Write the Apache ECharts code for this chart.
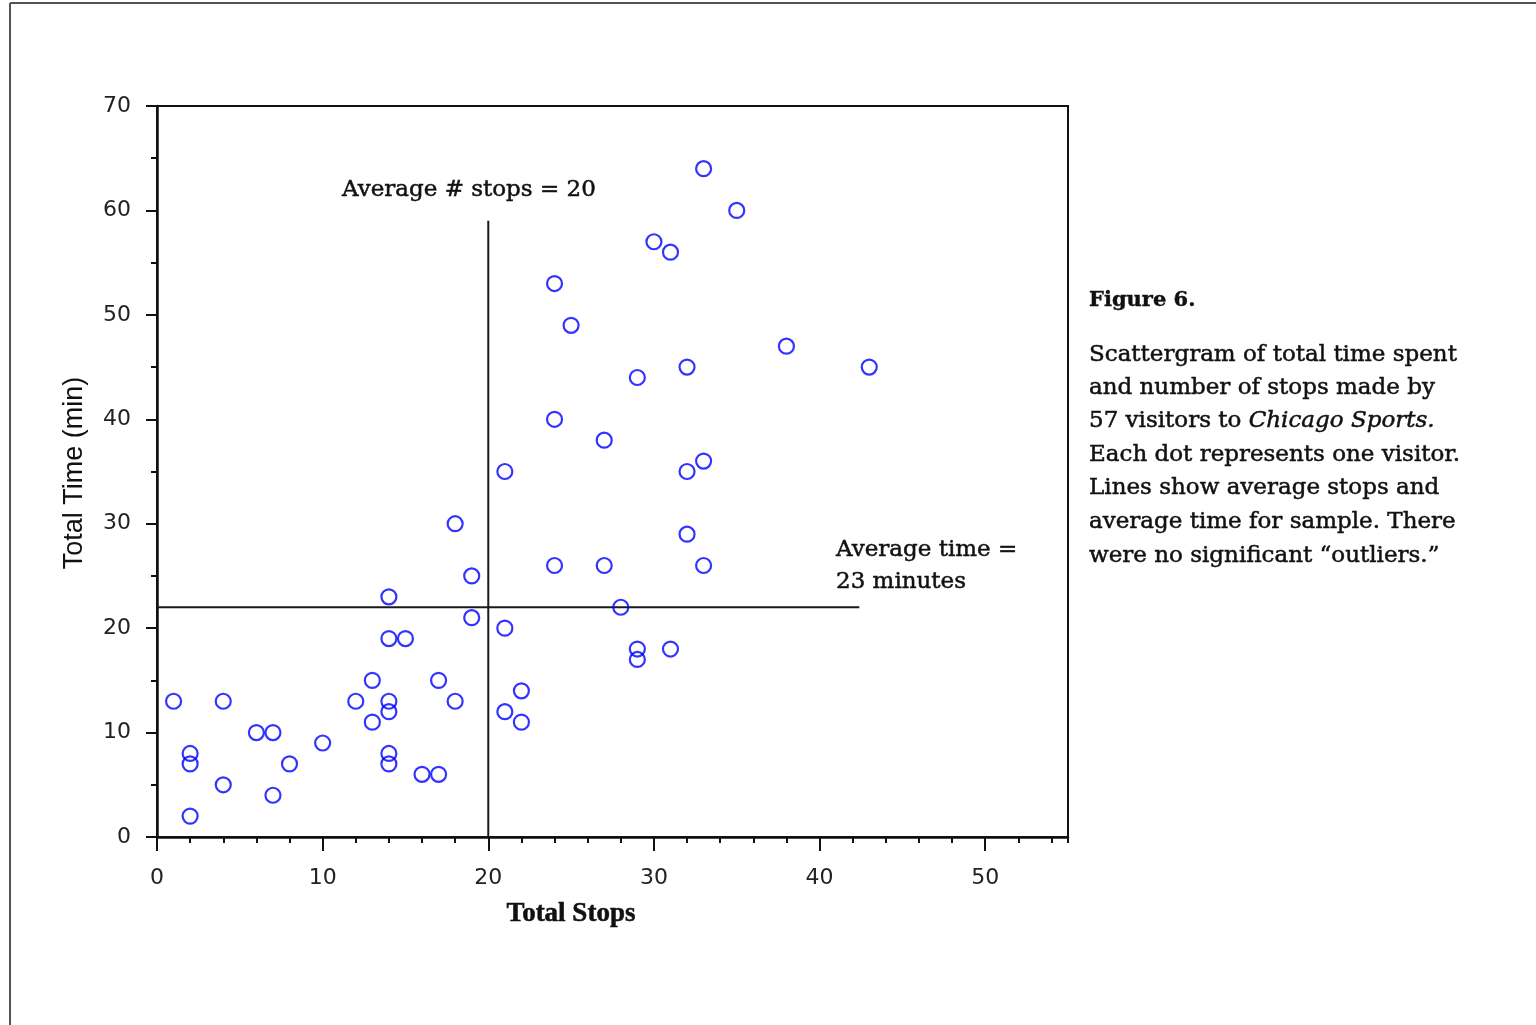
<!DOCTYPE html>
<html>
<head>
<meta charset="utf-8">
<script src="https://cdn.jsdelivr.net/npm/echarts@6/dist/echarts.min.js"></script>
<style>
html,body{margin:0;padding:0;background:#fff;}
#chart{width:1536px;height:1025px;}
</style>
</head>
<body>
<div id="chart"></div>
<script>
// ---- data ----
var stops = [1,2,2,2,4,4,6,7,7,8,10,12,13,13,14,14,15,14,14,14,14,16,17,17,18,18,19,19,21,21,21,22,22,24,24,24,25,27,27,28,29,29,29,30,31,31,32,32,32,33,33,33,35,38,43];
var times = [13,8,7,2,13,5,10,10,4,7,9,13,15,11,23,19,19,13,12,8,7,6,6,15,13,30,25,21,35,20,12,14,11,53,40,26,49,38,26,22,44,18,17,57,56,18,45,35,29,64,36,26,60,47,45];
var avgStops = 20;          // vertical reference line x
var avgStopsLineTop = 59;   // vertical line upper end (y)
var avgTime = 22;           // horizontal reference line y
var avgTimeLineEnd = 42.4;  // horizontal line right end (x)
var xMin = 0, xMax = 55, xMinor = 2;
var xMajorTicks = [0, 10, 20, 30, 40, 50];
var yMin = 0, yMax = 70, yMajor = 10;

var points = stops.map(function(s, i){ return [s, times[i]]; });

var serif = '"DejaVu Serif", "Liberation Serif", serif';
var chart = echarts.init(document.getElementById('chart'));
var axisColor = '#111';
var ink = '#111';

function txt(x, y, s, font, extra) {
  var st = {text: s, fill: ink, font: font, textAlign: 'left', textVerticalAlign: 'middle', stroke: ink, lineWidth: 0.5};
  if (extra) for (var k in extra) st[k] = extra[k];
  return {type: 'text', x: x, y: y, style: st};
}

var option = {
  animation: false,
  backgroundColor: '#fff',
  grid: {
    left: 157, top: 106, right: 468, bottom: 188,
    show: true, borderColor: axisColor, borderWidth: 2, backgroundColor: 'transparent'
  },
  xAxis: [
    {
      type: 'value', min: xMin, max: xMax, position: 'bottom',
      splitLine: {show: false},
      axisLine: {show: true, onZero: false, lineStyle: {color: axisColor, width: 2.5}},
      axisTick: {show: true, length: 14, customValues: xMajorTicks, lineStyle: {color: axisColor, width: 2}},
      axisLabel: {
        margin: 30, color: '#222', fontFamily: '"DejaVu Sans", sans-serif', fontSize: 22,
        customValues: xMajorTicks
      }
    },
    {
      type: 'value', min: xMin, max: xMax, interval: xMinor, position: 'bottom',
      splitLine: {show: false},
      axisLine: {show: false, onZero: false},
      axisTick: {show: true, length: 6, lineStyle: {color: axisColor, width: 2}},
      axisLabel: {show: false}
    }
  ],
  yAxis: {
    type: 'value', min: yMin, max: yMax, interval: yMajor,
    splitLine: {show: false},
    axisLine: {show: true, onZero: false, lineStyle: {color: axisColor, width: 2.5}},
    axisTick: {show: true, length: 11, lineStyle: {color: axisColor, width: 2}},
    minorTick: {show: true, splitNumber: 2, length: 6, lineStyle: {color: axisColor, width: 2}},
    axisLabel: {margin: 26, color: '#222', fontFamily: '"DejaVu Sans", sans-serif', fontSize: 22}
  },
  series: [
    {
      type: 'line', xAxisIndex: 0, symbol: 'none', silent: true,
      lineStyle: {color: '#1a1a1a', width: 2},
      data: [[avgStops, yMin], [avgStops, avgStopsLineTop]], z: 3
    },
    {
      type: 'line', xAxisIndex: 0, symbol: 'none', silent: true,
      lineStyle: {color: '#1a1a1a', width: 2},
      data: [[xMin, avgTime], [avgTimeLineEnd, avgTime]], z: 3
    },
    {
      type: 'scatter', xAxisIndex: 0, symbol: 'circle', symbolSize: 15,
      itemStyle: {color: 'rgba(0,0,0,0)', borderColor: '#0000ff', borderWidth: 2.2},
      data: points, z: 4
    }
  ],
  graphic: [
    {type: 'line', shape: {x1: 10, y1: 3, x2: 1536, y2: 3}, style: {stroke: '#555', lineWidth: 2}},
    {type: 'line', shape: {x1: 10, y1: 3, x2: 10, y2: 1025}, style: {stroke: '#555', lineWidth: 2}},
    {type: 'text', x: 75, y: 473, rotation: Math.PI / 2,
      style: {text: 'Total Time (min)', fill: '#111', font: '27px "Liberation Sans", Arial, sans-serif', textAlign: 'center', textVerticalAlign: 'middle'}},
    txt(571, 914, 'Total Stops', 'bold 27px "Liberation Serif", serif', {textAlign: 'center'}),
    txt(342, 190, 'Average # stops = 20', '23px ' + serif),
    txt(836, 550, 'Average time =', '23px ' + serif),
    txt(836, 582, '23 minutes', '23px ' + serif),
    txt(1089, 301, 'Figure 6.', 'bold 21px ' + serif, {lineWidth: 0.4}),
    txt(1089, 355, 'Scattergram of total time spent', '23px ' + serif),
    txt(1089, 388, 'and number of stops made by', '23px ' + serif),
    {type: 'text', x: 1089, y: 421,
      style: {text: '{n|57 visitors to }{i|Chicago Sports.}', textAlign: 'left', textVerticalAlign: 'middle',
        fill: ink, stroke: ink, lineWidth: 0.5,
        rich: {n: {fill: ink, font: '23px ' + serif, stroke: ink, lineWidth: 0.5},
               i: {fill: ink, font: 'italic 23px ' + serif, stroke: ink, lineWidth: 0.5}}}},
    txt(1089, 455, 'Each dot represents one visitor.', '23px ' + serif),
    txt(1089, 488, 'Lines show average stops and', '23px ' + serif),
    txt(1089, 522, 'average time for sample. There', '23px ' + serif),
    txt(1089, 556, 'were no significant \u201coutliers.\u201d', '23px ' + serif)
  ]
};
chart.setOption(option);
</script>
</body>
</html>
